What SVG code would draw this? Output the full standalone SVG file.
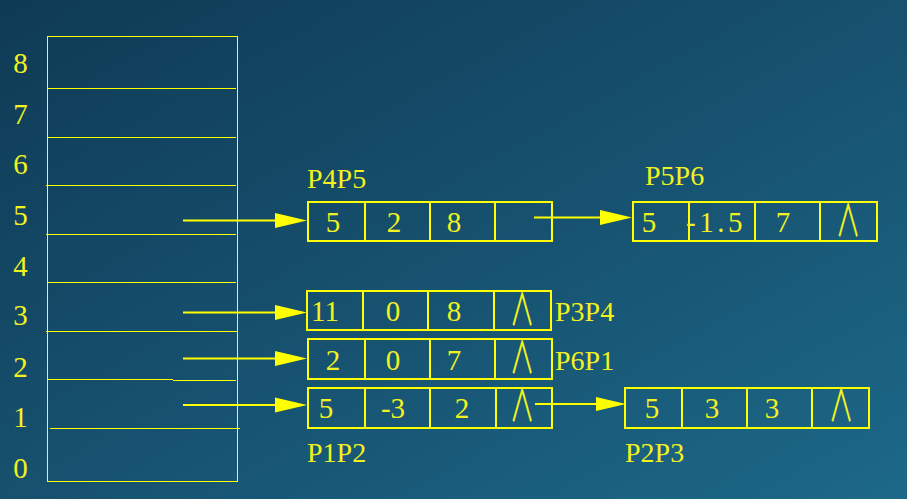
<svg xmlns="http://www.w3.org/2000/svg" width="907" height="499" viewBox="0 0 907 499">
<defs>
<linearGradient id="bg" x1="0" y1="0" x2="1" y2="1">
<stop offset="0" stop-color="#0f3a55"/>
<stop offset="1" stop-color="#1d6888"/>
</linearGradient>
</defs>
<style>
.t{font-family:"Liberation Serif","Times New Roman",serif;font-size:29px;fill:#f2f21e}
.l{font-family:"Liberation Serif","Times New Roman",serif;font-size:28px;fill:#f2f21e}
.c{text-anchor:middle}
.sym{font-family:"Noto Sans CJK SC","DejaVu Sans",sans-serif;font-size:26px;fill:#f2f21e;text-anchor:middle}
.tb{fill:none;stroke:#ffff00;stroke-width:1}
.box{fill:none;stroke:#ffff00;stroke-width:2}
.ln{fill:none;stroke:#ffff00;stroke-width:2}
.ah{fill:#ffff00}
</style>
<rect width="907" height="499" fill="url(#bg)"/>

<g id="table">
<rect class="tb" x="47.5" y="36.5" width="190" height="445"/>
<path class="tb" d="M47 88.5H236M47 137.5H236M46 185.5H236M46 234.5H236M47 282.5H236M46 331.5H237M47 379.5H173M173 380.5H236M50 428.5H240"/>
<g class="t c">
<text x="20.5" y="73">8</text>
<text x="20.5" y="124">7</text>
<text x="20.5" y="174">6</text>
<text x="20.5" y="225">5</text>
<text x="20.5" y="276">4</text>
<text x="20.5" y="325">3</text>
<text x="20.5" y="377">2</text>
<text x="20.5" y="427">1</text>
<text x="20.5" y="478">0</text>
</g>
</g>

<g id="P4P5">
<rect class="box" x="308" y="202" width="244" height="39"/>
<path class="box" d="M365 202V241M430 202V241M495 202V241"/>
<g class="t c">
<text x="333" y="232">5</text>
<text x="394" y="232">2</text>
<text x="454" y="232">8</text>
</g>
<text class="l" x="307" y="188">P4P5</text>
</g>

<g id="P5P6">
<rect class="box" x="633" y="202" width="244" height="39"/>
<path class="box" d="M689 202V241M755 202V241M820 202V241"/>
<text class="t c" x="649" y="232">5</text>
<text class="t" x="686" y="232" letter-spacing="3.5">-1.5</text>
<text class="t c" x="783" y="232">7</text>
<text class="sym" transform="translate(848 237) scale(0.95 1.75)">∧</text>
<text class="l" x="645" y="185">P5P6</text>
</g>

<g id="P3P4">
<rect class="box" x="307" y="291" width="244" height="39"/>
<path class="box" d="M363 291V330M428 291V330M494 291V330"/>
<g class="t c">
<text x="325" y="321">11</text>
<text x="393" y="321">0</text>
<text x="454" y="321">8</text>
</g>
<text class="sym" transform="translate(522 326) scale(0.95 1.75)">∧</text>
<text class="l" x="555" y="321">P3P4</text>
</g>

<g id="P6P1">
<rect class="box" x="308" y="339" width="244" height="40"/>
<path class="box" d="M365 339V379M430 339V379M495 339V379"/>
<g class="t c">
<text x="333" y="370">2</text>
<text x="393" y="370">0</text>
<text x="454" y="370">7</text>
</g>
<text class="sym" transform="translate(522 374) scale(0.95 1.75)">∧</text>
<text class="l" x="555" y="370">P6P1</text>
</g>

<g id="P1P2">
<rect class="box" x="308" y="388" width="244" height="40"/>
<path class="box" d="M365 388V428M430 388V428M496 388V428"/>
<g class="t c">
<text x="326" y="418">5</text>
<text x="393" y="418">-3</text>
<text x="462" y="418">2</text>
</g>
<text class="sym" transform="translate(522 422) scale(0.95 1.75)">∧</text>
<text class="l" x="307" y="462">P1P2</text>
</g>

<g id="P2P3">
<rect class="box" x="625" y="388" width="244" height="40"/>
<path class="box" d="M682 388V428M747 388V428M812 388V428"/>
<g class="t c">
<text x="652" y="418">5</text>
<text x="712" y="418">3</text>
<text x="772" y="418">3</text>
</g>
<text class="sym" transform="translate(841 422) scale(0.95 1.75)">∧</text>
<text class="l" x="625" y="462">P2P3</text>
</g>

<g id="connectors">
<path class="ln" d="M183 220.5H280"/>
<polygon class="ah" points="307,220.5 275,213 275,228"/>
<path class="ln" d="M183 312.5H280"/>
<polygon class="ah" points="307,312.5 275,305 275,320"/>
<path class="ln" d="M183 358.5H280"/>
<polygon class="ah" points="307,358.5 275,351 275,366"/>
<path class="ln" d="M183 405H280"/>
<polygon class="ah" points="307,405 275,397.5 275,412.5"/>
<path class="ln" d="M534 217.5H605"/>
<polygon class="ah" points="632,217.5 600,210 600,225"/>
<path class="ln" d="M535 404H600"/>
<polygon class="ah" points="626,404 596,397 596,411"/>
</g>
</svg>
